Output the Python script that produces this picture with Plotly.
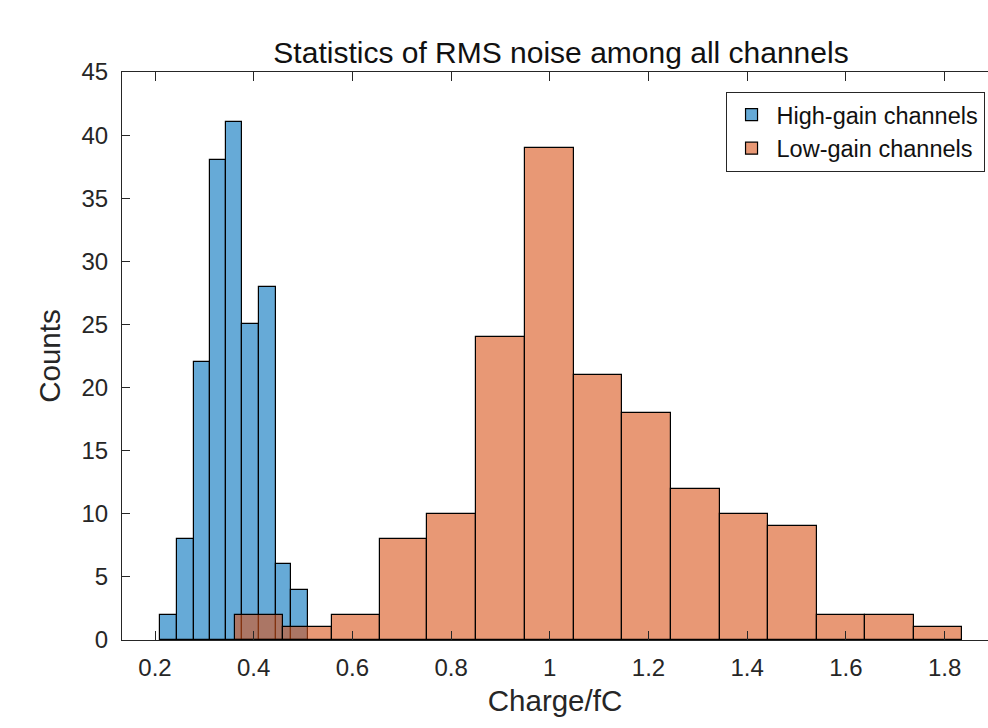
import plotly.graph_objects as go

# ---- data ----
hg_edges = [0.210, 0.244, 0.278, 0.311, 0.343, 0.377, 0.411, 0.445, 0.476, 0.509]
hg_counts = [2, 8, 22, 38, 41, 25, 28, 6, 4]

lg_edges = [0.362, 0.460, 0.558, 0.655, 0.751, 0.850, 0.950, 1.049, 1.147,
            1.246, 1.344, 1.442, 1.541, 1.639, 1.738, 1.836]
lg_counts = [2, 1, 2, 8, 10, 24, 39, 21, 18, 12, 10, 9, 2, 2, 1]

x_ticks = [0.2, 0.4, 0.6, 0.8, 1.0, 1.2, 1.4, 1.6, 1.8]
x_tick_labels = ["0.2", "0.4", "0.6", "0.8", "1", "1.2", "1.4", "1.6", "1.8"]
y_ticks = [0, 5, 10, 15, 20, 25, 30, 35, 40, 45]

series_names = ["High-gain channels", "Low-gain channels"]
title_text = "Statistics of RMS noise among all channels"
x_title = "Charge/fC"
y_title = "Counts"


def centers(edges):
    return [(a + b) / 2 for a, b in zip(edges[:-1], edges[1:])]


def widths(edges):
    return [b - a for a, b in zip(edges[:-1], edges[1:])]


AX = "#262626"
FONT = "Liberation Sans, Arial, Helvetica, sans-serif"

fig = go.Figure()
fig.add_trace(go.Bar(
    x=centers(hg_edges), y=hg_counts, width=widths(hg_edges),
    name=series_names[0],
    marker=dict(color="rgba(0,114,189,0.6)", line=dict(color="#000000", width=1.2)),
))
fig.add_trace(go.Bar(
    x=centers(lg_edges), y=lg_counts, width=widths(lg_edges),
    name=series_names[1],
    marker=dict(color="rgba(217,83,25,0.6)", line=dict(color="#000000", width=1.2)),
))

fig.update_layout(
    width=988, height=728,
    margin=dict(l=122, r=0, t=72, b=88),
    paper_bgcolor="white", plot_bgcolor="white",
    barmode="overlay", bargap=0,
    font=dict(family=FONT, color=AX),
    title=dict(text=title_text, x=561 / 988, xref="container",
               xanchor="center", y=1 - 52 / 728, yanchor="middle",
               font=dict(size=30, color="#111111")),
    legend=dict(x=0.996, y=0.965, xanchor="right", yanchor="top",
                bgcolor="white", bordercolor=AX, borderwidth=1,
                font=dict(size=23.5, color="#111111"),
                tracegroupgap=0, itemwidth=40),
    showlegend=True,
)
fig.update_xaxes(
    range=[0.1331, 1.888], tickvals=x_ticks, ticktext=x_tick_labels,
    ticks="inside", ticklen=9, tickcolor=AX, tickwidth=1,
    showline=True, linecolor=AX, linewidth=1, mirror="ticks",
    showgrid=False, zeroline=False,
    tickfont=dict(size=24, color=AX), ticklabelstandoff=6,
    title=dict(text=x_title, font=dict(size=29.5, color=AX), standoff=10),
)
fig.update_yaxes(
    range=[0, 45], tickvals=y_ticks,
    ticks="inside", ticklen=8, tickcolor=AX, tickwidth=1,
    showline=True, linecolor=AX, linewidth=1, mirror=False,
    showgrid=False, zeroline=False,
    tickfont=dict(size=24, color=AX), ticklabelstandoff=8,
    title=dict(text=y_title, font=dict(size=29.5, color=AX), standoff=12),
)

fig.write_html("out.html")
